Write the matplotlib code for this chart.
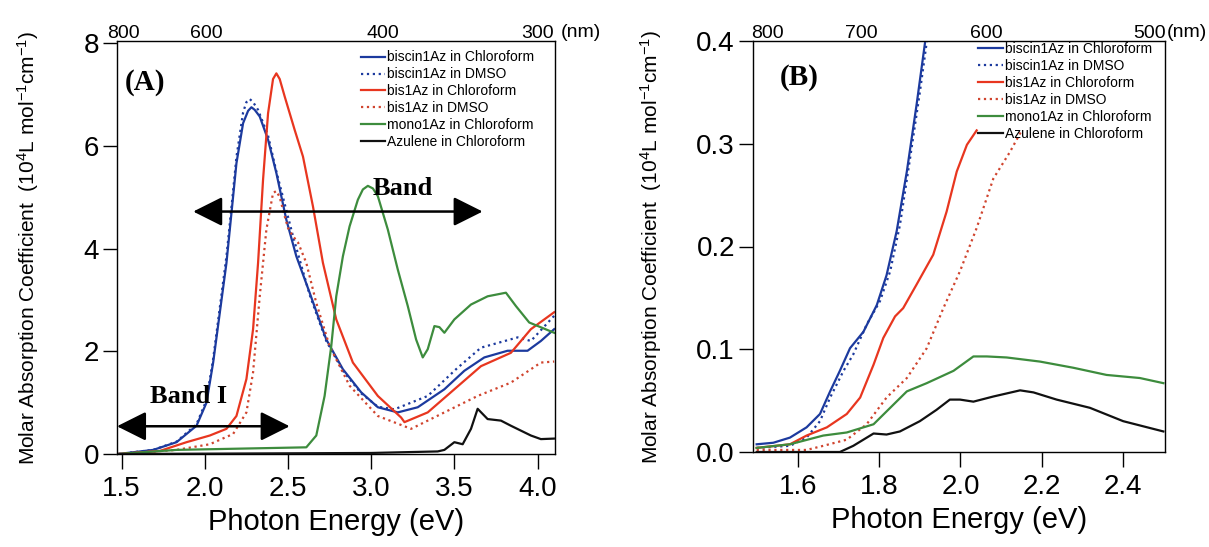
import matplotlib
matplotlib.use("Agg")
import matplotlib.pyplot as plt

plt.rcParams['font.family'] = ['Liberation Sans', 'DejaVu Sans']
plt.rcParams['mathtext.default'] = 'regular'

# ---- panel A data (eV, 10^4 L mol^-1 cm^-1) ----
bc_x = [1.48, 1.69, 1.83, 1.95, 2.01, 2.05, 2.09, 2.13, 2.16, 2.19, 2.23, 2.26, 2.28, 2.30, 2.33, 2.38, 2.43,
        2.49, 2.55, 2.63, 2.73, 2.83, 2.94, 3.04, 3.16, 3.28, 3.44, 3.56, 3.68, 3.82, 3.94, 4.02, 4.10]
bc_y = [0.0, 0.08, 0.23, 0.55, 1.0, 1.78, 2.75, 3.72, 4.69, 5.66, 6.44, 6.68, 6.75, 6.70, 6.57, 6.12, 5.47,
        4.56, 3.85, 3.14, 2.23, 1.65, 1.20, 0.91, 0.81, 0.91, 1.26, 1.62, 1.88, 2.01, 2.01, 2.20, 2.43]

bd_x = [1.48, 1.69, 1.83, 1.95, 2.01, 2.05, 2.09, 2.13, 2.16, 2.19, 2.23, 2.25, 2.27, 2.29, 2.32, 2.38, 2.43,
        2.53, 2.63, 2.73, 2.83, 2.94, 3.04, 3.14, 3.34, 3.51, 3.66, 3.88, 3.96, 4.10]
bd_y = [0.0, 0.08, 0.24, 0.58, 1.05, 1.85, 2.85, 3.85, 4.80, 5.78, 6.65, 6.85, 6.91, 6.85, 6.70, 6.20, 5.50,
        4.24, 3.10, 2.20, 1.62, 1.18, 0.92, 0.87, 1.13, 1.65, 2.07, 2.27, 2.20, 2.69]

rc_x = [1.48, 1.73, 1.89, 2.03, 2.13, 2.19, 2.25, 2.29, 2.32, 2.35, 2.38, 2.41, 2.43, 2.45, 2.48, 2.54, 2.59,
        2.65, 2.71, 2.79, 2.89, 3.04, 3.18, 3.20, 3.34, 3.50, 3.66, 3.84, 3.96, 4.10]
rc_y = [0.0, 0.06, 0.23, 0.36, 0.49, 0.74, 1.46, 2.43, 3.72, 5.34, 6.63, 7.30, 7.41, 7.30, 6.96, 6.31, 5.79,
        4.82, 3.72, 2.62, 1.78, 1.13, 0.71, 0.62, 0.81, 1.26, 1.71, 1.97, 2.43, 2.76]

rd_x = [1.48, 1.83, 2.03, 2.17, 2.25, 2.29, 2.33, 2.37, 2.41, 2.43, 2.45, 2.48, 2.50, 2.53, 2.56, 2.61, 2.67, 2.75,
        2.87, 3.04, 3.24, 3.44, 3.64, 3.84, 4.02, 4.10]
rd_y = [0.0, 0.08, 0.19, 0.39, 0.81, 1.59, 3.07, 4.37, 5.08, 5.12, 5.00, 4.63, 4.40, 4.24, 4.12, 3.72, 2.94, 2.10,
        1.33, 0.74, 0.49, 0.81, 1.13, 1.39, 1.78, 1.80]

gc_x = [1.48, 1.83, 2.61, 2.67, 2.72, 2.76, 2.79, 2.83, 2.87, 2.92, 2.95, 2.98, 3.01, 3.04, 3.10, 3.16, 3.22,
        3.27, 3.31, 3.34, 3.38, 3.41, 3.44, 3.50, 3.60, 3.70, 3.81, 3.87, 3.95, 4.10]
gc_y = [0.0, 0.08, 0.13, 0.36, 1.13, 2.10, 3.07, 3.85, 4.43, 4.95, 5.15, 5.22, 5.17, 5.02, 4.37, 3.59, 2.88,
        2.23, 1.88, 2.04, 2.49, 2.47, 2.36, 2.62, 2.91, 3.07, 3.14, 2.88, 2.56, 2.36]

az_x = [1.48, 3.00, 3.40, 3.44, 3.50, 3.55, 3.60, 3.64, 3.70, 3.78, 3.84, 3.96, 4.02, 4.10]
az_y = [0.0, 0.02, 0.05, 0.08, 0.23, 0.19, 0.49, 0.88, 0.68, 0.65, 0.55, 0.36, 0.29, 0.30]

# ---- panel B data ----
bcB_x = [1.498, 1.539, 1.580, 1.621, 1.654, 1.679, 1.703, 1.728, 1.761, 1.794, 1.818, 1.843, 1.868, 1.892, 1.913, 1.92]
bcB_y = [0.0075, 0.009, 0.014, 0.024, 0.037, 0.059, 0.079, 0.101, 0.117, 0.143, 0.172, 0.215, 0.273, 0.338, 0.399, 0.43]

bdB_x = [1.498, 1.580, 1.621, 1.654, 1.679, 1.712, 1.736, 1.769, 1.802, 1.827, 1.851, 1.876, 1.900, 1.917, 1.925]
bdB_y = [0.004, 0.006, 0.014, 0.030, 0.053, 0.079, 0.095, 0.124, 0.147, 0.176, 0.221, 0.286, 0.350, 0.399, 0.43]

rcB_x = [1.498, 1.580, 1.621, 1.671, 1.720, 1.753, 1.786, 1.810, 1.839, 1.859, 1.892, 1.933, 1.966, 1.991, 2.016, 2.040]
rcB_y = [0.004, 0.0075, 0.016, 0.024, 0.037, 0.053, 0.085, 0.111, 0.132, 0.140, 0.163, 0.192, 0.234, 0.273, 0.299, 0.313]

rdB_x = [1.498, 1.621, 1.662, 1.720, 1.769, 1.818, 1.868, 1.917, 1.958, 1.999, 2.040, 2.081, 2.122, 2.151]
rdB_y = [0.002, 0.002, 0.006, 0.012, 0.027, 0.053, 0.072, 0.101, 0.140, 0.176, 0.218, 0.266, 0.292, 0.313]

gcB_x = [1.498, 1.580, 1.662, 1.720, 1.786, 1.827, 1.868, 1.917, 1.983, 2.032, 2.065, 2.114, 2.196,
         2.278, 2.360, 2.442, 2.50]
gcB_y = [0.004, 0.0075, 0.016, 0.019, 0.027, 0.043, 0.059, 0.067, 0.079, 0.093, 0.093, 0.092, 0.088,
         0.082, 0.075, 0.072, 0.067]

azB_x = [1.498, 1.703, 1.736, 1.786, 1.818, 1.851, 1.900, 1.941, 1.974, 1.999, 2.032, 2.081, 2.147,
         2.180, 2.237, 2.319, 2.401, 2.50]
azB_y = [0.0, 0.0, 0.006, 0.018, 0.017, 0.020, 0.030, 0.041, 0.051, 0.051, 0.049, 0.054, 0.060,
         0.058, 0.051, 0.043, 0.030, 0.020]

labels = ["biscin1Az in Chloroform", "biscin1Az in DMSO", "bis1Az in Chloroform",
          "bis1Az in DMSO", "mono1Az in Chloroform", "Azulene in Chloroform"]

# top wavelength labels (positions in eV as drawn in the picture)
topA_ev = [1.51, 2.01, 3.07, 4.0]
topA_nm = ["800", "600", "400", "300"]
topB_ev = [1.525, 1.757, 2.063, 2.465]
topB_nm = ["800", "700", "600", "500"]

BLUE = '#1c3a9e'
RED = '#e8361f'
RED2 = '#d0442e'
GREEN = '#3d8c3d'
BLACK = '#111111'

fig = plt.figure(figsize=(12.09, 5.47), dpi=100)
axA = fig.add_axes([117 / 1209, 1 - 454 / 547, 438 / 1209, 413 / 547])
axB = fig.add_axes([753 / 1209, 1 - 452 / 547, 412 / 1209, 411 / 547])


def draw(ax, data):
    styles = [(BLUE, '-'), (BLUE, ':'), (RED, '-'), (RED2, ':'), (GREEN, '-'), (BLACK, '-')]
    for (x, y), (c, ls), lab in zip(data, styles, labels):
        ax.plot(x, y, color=c, linestyle=ls, lw=1.6, label=lab)


draw(axA, [(bc_x, bc_y), (bd_x, bd_y), (rc_x, rc_y), (rd_x, rd_y), (gc_x, gc_y), (az_x, az_y)])
draw(axB, [(bcB_x, bcB_y), (bdB_x, bdB_y), (rcB_x, rcB_y), (rdB_x, rdB_y), (gcB_x, gcB_y), (azB_x, azB_y)])

axA.set_xlim(1.472, 4.105)
axA.set_ylim(0, 8.04)
axA.set_xticks([1.5, 2.0, 2.5, 3.0, 3.5, 4.0])
axA.set_xticklabels(["1.5", "2.0", "2.5", "3.0", "3.5", "4.0"])
axA.set_yticks([0, 2, 4, 6, 8])

axB.set_xlim(1.489, 2.504)
axB.set_ylim(0, 0.399)
axB.set_xticks([1.6, 1.8, 2.0, 2.2, 2.4])
axB.set_xticklabels(["1.6", "1.8", "2.0", "2.2", "2.4"])
axB.set_yticks([0.0, 0.1, 0.2, 0.3, 0.4])
axB.set_yticklabels(["0.0", "0.1", "0.2", "0.3", "0.4"])

ylab = r'Molar Absorption Coefficient  (10$^{4}$L mol$^{-1}$cm$^{-1}$)'
for ax, lx, top_ev, top_nm, nmx in [(axA, -0.174, topA_ev, topA_nm, 1.012),
                                   (axB, -0.216, topB_ev, topB_nm, 1.005)]:
    ax.tick_params(axis='x', direction='out', length=11, width=1, pad=5, labelsize=20)
    ax.tick_params(axis='y', direction='out', length=10, width=1, pad=3, labelsize=20)
    for s in ax.spines.values():
        s.set_linewidth(1.0)
        s.set_color('#333333')
    ax.set_xlabel("Photon Energy (eV)", fontsize=21, labelpad=4)
    ax.set_ylabel(ylab, fontsize=15)
    ax.yaxis.set_label_coords(lx, 0.5)
    top = ax.twiny()
    top.set_xlim(ax.get_xlim())
    top.set_xticks(top_ev)
    top.set_xticklabels(top_nm)
    top.tick_params(axis='x', length=0, pad=-0.5, labelsize=14)
    top.text(nmx, 1.009, "(nm)", transform=ax.transAxes, fontsize=14, ha='left', va='baseline')

axA.legend(loc='upper left', bbox_to_anchor=(0.557, 0.977), frameon=False, fontsize=10,
           handlelength=1.7, handletextpad=0.15, labelspacing=0.21, borderpad=0, borderaxespad=0)
axB.legend(loc='upper left', bbox_to_anchor=(0.546, 0.997), frameon=False, fontsize=10,
           handlelength=1.8, handletextpad=0.15, labelspacing=0.21, borderpad=0, borderaxespad=0)

serif = ['Liberation Serif', 'DejaVu Serif']
axA.text(0.018, 0.881, "(A)", transform=axA.transAxes, fontsize=21, fontweight='bold', family=serif)
axB.text(0.066, 0.893, "(B)", transform=axB.transAxes, fontsize=21, fontweight='bold', family=serif)
axA.text(3.01, 5.05, "Band", fontsize=19, fontweight='bold', family=serif)
axA.text(1.67, 1.0, "Band I", fontsize=19, fontweight='bold', family=serif)

arrow = dict(arrowstyle='<|-|>,head_length=0.9,head_width=0.45', color='black', lw=1.8,
             shrinkA=0, shrinkB=0, mutation_scale=20)
axA.annotate("", xy=(3.67, 4.72), xytext=(1.93, 4.72), arrowprops=arrow)
axA.annotate("", xy=(2.51, 0.54), xytext=(1.472, 0.54), arrowprops=arrow)

fig.savefig("out.png", dpi=100)
